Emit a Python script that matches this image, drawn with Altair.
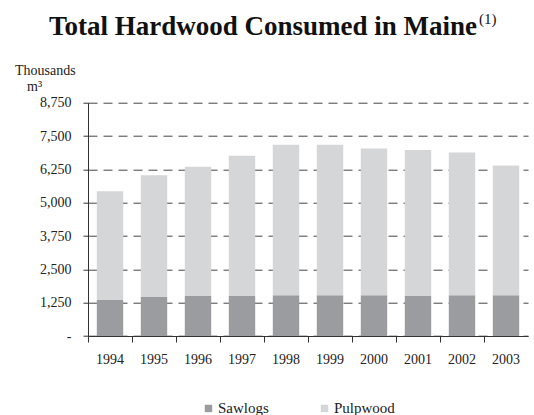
import altair as alt
import pandas as pd

years = ["1994", "1995", "1996", "1997", "1998", "1999", "2000", "2001", "2002", "2003"]
totals = [5430, 6030, 6350, 6760, 7170, 7170, 7030, 6980, 6880, 6390]
sawlogs = [1350, 1460, 1500, 1500, 1530, 1530, 1530, 1500, 1530, 1530]
pulpwood = [t - s for t, s in zip(totals, sawlogs)]
series = ["Sawlogs", "Pulpwood"]
colors = ["#9b9c9f", "#d5d6d8"]
y_ticks = [0, 1250, 2500, 3750, 5000, 6250, 7500, 8750]

rows = []
for y, s, p in zip(years, sawlogs, pulpwood):
    rows.append({"Year": y, "Type": "Sawlogs", "Value": s, "ord": 0})
    rows.append({"Year": y, "Type": "Pulpwood", "Value": p, "ord": 1})
df = pd.DataFrame(rows)

FONT = "Liberation Serif"
W, H = 440, 233.3
LEFT, TOP = 88, 102.7

bars = alt.Chart(df).mark_bar(width=alt.RelativeBandSize(0.6)).encode(
    x=alt.X("Year:N", sort=years, title=None,
            scale=alt.Scale(paddingInner=0, paddingOuter=0),
            axis=alt.Axis(bandPosition=0, labelAngle=0,
                          labelFont=FONT, labelFontSize=14, labelColor="#222",
                          tickSize=6, tickColor="#333", domainColor="#333",
                          labelPadding=10, grid=False)),
    y=alt.Y("Value:Q", stack="zero", title=None,
            scale=alt.Scale(domain=[0, 8750], nice=False),
            axis=alt.Axis(values=y_ticks,
                          labelExpr="datum.value == 0 ? '-' : format(datum.value, ',')",
                          labelFont=FONT, labelFontSize=14, labelColor="#222",
                          tickSize=5, tickColor="#333", domainColor="#333",
                          labelPadding=12, grid=True, gridColor="#444",
                          gridDash=[9, 6], gridWidth=1)),
    color=alt.Color("Type:N", scale=alt.Scale(domain=series, range=colors),
                    sort=series,
                    legend=alt.Legend(title=None, orient="none", direction="horizontal",
                                      legendX=113, legendY=298, symbolType="square",
                                      symbolSize=55, symbolStrokeWidth=0,
                                      labelOffset=2,
                                      labelFont=FONT, labelFontSize=15, labelColor="#222",
                                      columnPadding=48, symbolOpacity=1)),
    order=alt.Order("ord:Q"),
)

title_df = pd.DataFrame({"t": ["Total Hardwood Consumed in Maine"]})
title = alt.Chart(title_df).mark_text(font=FONT, fontSize=27, fontWeight="bold",
                                      align="center", baseline="alphabetic",
                                      color="#111").encode(
    text="t:N", x=alt.value(175), y=alt.value(-68))

sup_df = pd.DataFrame({"t": ["(1)"]})
sup = alt.Chart(sup_df).mark_text(font=FONT, fontSize=15, align="left",
                                  baseline="alphabetic", color="#111").encode(
    text="t:N", x=alt.value(391), y=alt.value(-79))

th_df = pd.DataFrame({"t": ["Thousands"]})
thousands = alt.Chart(th_df).mark_text(font=FONT, fontSize=14, align="left",
                                       baseline="alphabetic", color="#222").encode(
    text="t:N", x=alt.value(-73), y=alt.value(-28))

m_df = pd.DataFrame({"t": ["m³"]})
m3 = alt.Chart(m_df).mark_text(font=FONT, fontSize=14, align="left",
                               baseline="alphabetic", color="#222").encode(
    text="t:N", x=alt.value(-61), y=alt.value(-12))

chart = alt.layer(bars, title, sup, thousands, m3).properties(
    width=W, height=H,
    autosize=alt.AutoSizeParams(type="none"),
    padding={"left": LEFT, "top": TOP, "right": 534 - LEFT - W, "bottom": 415 - TOP - H},
    background="white",
).configure_view(stroke=None)

chart.save("out.html", embed_options={"renderer": "svg", "actions": False})
